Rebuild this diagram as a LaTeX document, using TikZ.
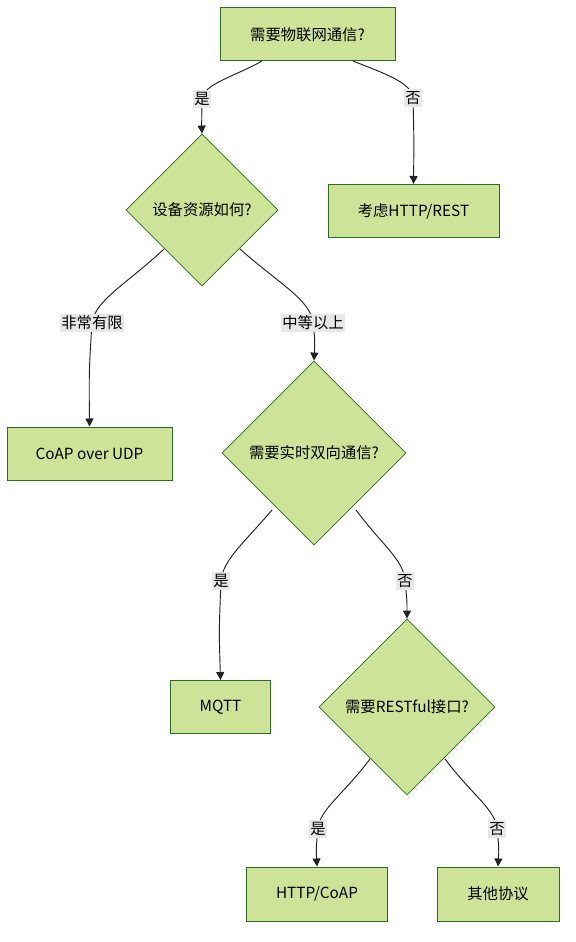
\documentclass[tikz,border=0pt]{standalone}
\usepackage{fontspec}
\setmainfont{Noto Sans CJK SC}
\usetikzlibrary{shapes.geometric,arrows.meta}
\definecolor{nodefill}{HTML}{CDE498}
\definecolor{nodeline}{HTML}{2E6B24}
\definecolor{lblfill}{HTML}{E8E8E8}
\definecolor{edgecol}{HTML}{222222}
\tikzset{
  procbox/.style={draw=nodeline,fill=nodefill,line width=0.75pt,rectangle,inner sep=0pt,font=\fontsize{11.5pt}{13pt}\selectfont},
  decbox/.style={draw=nodeline,fill=nodefill,line width=0.6pt,diamond,aspect=1,inner sep=0pt,font=\fontsize{11.5pt}{13pt}\selectfont},
  elabel/.style={fill=lblfill,inner xsep=1pt,inner ysep=1.5pt,font=\fontsize{11.5pt}{13pt}\selectfont},
  edge/.style={draw=edgecol,line width=0.7pt,-{Triangle[length=6pt,width=6pt]}}
}
\begin{document}
\begin{tikzpicture}[x=0.75pt,y=-0.75pt]
\useasboundingbox (0,0) rectangle (575,942);
\fill[white] (0,0) rectangle (575,942);
% nodes
\node[procbox,minimum width=175*0.75pt,minimum height=53*0.75pt] (q1) at (307.5,34.5) {需要物联网通信?};
\node[procbox,minimum width=171*0.75pt,minimum height=53*0.75pt] (http) at (413.5,211) {考虑HTTP/REST};
\node[decbox,minimum width=152*0.75pt,minimum height=152*0.75pt] (d1) at (202,210) {设备资源如何?};
\node[procbox,minimum width=165*0.75pt,minimum height=53*0.75pt] (coap) at (89.5,453.5) {CoAP over UDP};
\node[decbox,minimum width=184*0.75pt,minimum height=184*0.75pt] (d2) at (314,453) {需要实时双向通信?};
\node[procbox,minimum width=100*0.75pt,minimum height=53*0.75pt] (mqtt) at (220.5,707) {MQTT};
\node[decbox,minimum width=176*0.75pt,minimum height=176*0.75pt] (d3) at (407,707) {需要RESTful接口?};
\node[procbox,minimum width=141*0.75pt,minimum height=54*0.75pt] (hc) at (317,894) {HTTP/CoAP};
\node[procbox,minimum width=122*0.75pt,minimum height=54*0.75pt] (other) at (498,894) {其他协议};
% edge start points
\coordinate (s1) at (262,61);
\coordinate (s2) at (353,61);
\coordinate (s3) at (164,249);
\coordinate (s4) at (240,249);
\coordinate (s5) at (272,510);
\coordinate (s6) at (356,510);
\coordinate (s7) at (370,759);
\coordinate (s8) at (445,759);
% label positions
\coordinate (l1) at (202,99);
\coordinate (l2) at (413,98);
\coordinate (l3) at (92,323);
\coordinate (l4) at (313,323);
\coordinate (l5) at (221,581);
\coordinate (l6) at (405,581);
\coordinate (l7) at (318,829);
\coordinate (l8) at (497,829);
% edges
\draw[edge] (s1) .. controls (236,76) and (203,84) .. (l1) .. controls (201,112) .. (d1.north);
\draw[edge] (s2) .. controls (380,72) and (412,82) .. (l2) .. controls (414,140) .. (http.north);
\draw[edge] (s3) .. controls (128,283) and (95,300) .. (l3) .. controls (89,370) .. (coap.north);
\draw[edge] (s4) .. controls (278,283) and (311,300) .. (l4) .. controls (315,340) .. (d2.north);
\draw[edge] (s5) .. controls (242,545) and (223,560) .. (l5) .. controls (219,630) .. (mqtt.north);
\draw[edge] (s6) .. controls (382,545) and (404,560) .. (l6) .. controls (407,600) .. (d3.north);
\draw[edge] (s7) .. controls (343,795) and (319,810) .. (l7) .. controls (316,848) .. (hc.north);
\draw[edge] (s8) .. controls (472,795) and (496,810) .. (l8) .. controls (499,848) .. (other.north);
% labels
\node[elabel] (t1) at (l1) {是};
\node[elabel] (t2) at (l2) {否};
\node[elabel] (t3) at (l3) {非常有限};
\node[elabel] (t4) at (l4) {中等以上};
\node[elabel] (t5) at (l5) {是};
\node[elabel] (t6) at (l6) {否};
\node[elabel] (t7) at (l7) {是};
\node[elabel] (t8) at (l8) {否};
\end{tikzpicture}
\end{document}
